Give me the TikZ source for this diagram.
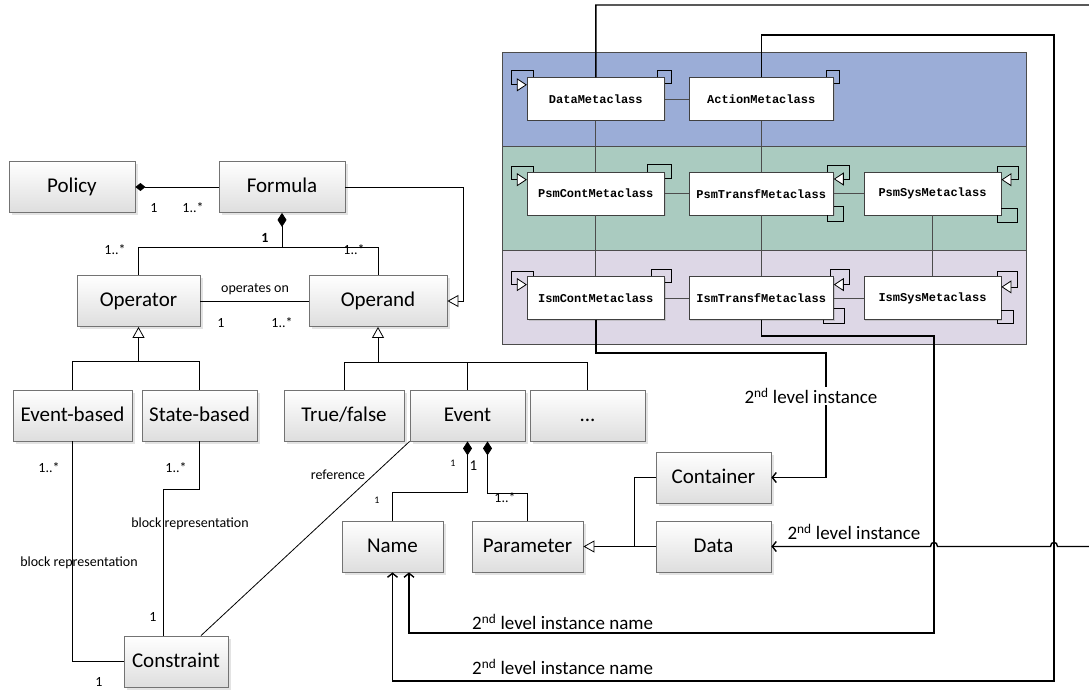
\documentclass[tikz,border=0pt]{standalone}
\usepackage{fontspec}
\setmainfont{Carlito}
\newfontfamily\monofont{Liberation Mono}
\usetikzlibrary{arrows.meta,shadows}

\definecolor{bandA}{RGB}{155,173,215}
\definecolor{bandB}{RGB}{170,203,192}
\definecolor{bandC}{RGB}{221,215,230}

\tikzset{
  umlbox/.style={draw=black!55, line width=0.8pt, top color=white, bottom color=black!13,
    minimum height=51pt, inner sep=0pt, text height=15pt, text depth=4pt,
    font=\fontsize{21}{24}\selectfont,
    drop shadow={shadow xshift=2.5pt, shadow yshift=-2.5pt, fill=black!22}},
  metabox/.style={draw=black!75, line width=0.8pt, fill=white, minimum height=42.6pt,
    inner sep=0pt, font=\monofont\bfseries\fontsize{12}{14}\selectfont,
    drop shadow={shadow xshift=1.2pt, shadow yshift=-1.2pt, fill=black!35}},
  lbl/.style={font=\fontsize{14}{16}\selectfont, inner sep=0pt},
  smalllbl/.style={font=\fontsize{10}{12}\selectfont, inner sep=0pt},
  inst/.style={font=\fontsize{19}{21}\selectfont, inner sep=1pt},
  link/.style={line width=0.8pt, draw=black},
  inner link/.style={line width=0.8pt, draw=black!70},
  wire/.style={line width=1.4pt, draw=black},
  comp/.style={{Diamond[length=14pt,width=9pt]}-},
  gen/.style={-{Triangle[length=11pt,width=12pt,fill=white]}},
  selfgen/.style={-{Triangle[length=10pt,width=13pt,fill=white]}},
  open tip/.style={-{Straight Barb[length=4pt,width=10pt]}},
}

\begin{document}
\begin{tikzpicture}[x=1pt,y=-1pt]
\useasboundingbox (0,0) rectangle (1089,690);
\clip (0,0) rectangle (1089,690);

% ---- metaclass layers ----
\fill[bandA] (502.7,52.7) rectangle (1026,146.7);
\fill[bandB] (502.7,146.7) rectangle (1026,250.7);
\fill[bandC] (502.7,250.7) rectangle (1026,344);
\draw[black!70, line width=0.8pt] (502.7,52.7) rectangle (1026,344);
\draw[black!70, line width=0.8pt] (502.7,146.7) -- (1026,146.7);
\draw[black!70, line width=0.8pt] (502.7,250.7) -- (1026,250.7);

\node[metabox, minimum width=137pt]   (dmc) at (595.8,99) {DataMetaclass};
\node[metabox, minimum width=144.3pt] (amc) at (761.2,99) {ActionMetaclass};
\node[metabox, minimum width=137pt]   (pcm) at (595.8,193.7) {PsmContMetaclass};
\node[metabox, minimum width=144.3pt] (ptm) at (761.2,193.7) {PsmTransfMetaclass};
\node[metabox, minimum width=137pt]   (psm) at (932.5,193.7) {PsmSysMetaclass};
\node[metabox, minimum width=137pt]   (icm) at (595.8,298) {IsmContMetaclass};
\node[metabox, minimum width=144.3pt] (itm) at (761.2,298) {IsmTransfMetaclass};
\node[metabox, minimum width=137pt]   (ism) at (932.5,298) {IsmSysMetaclass};

\draw[inner link] (dmc) -- (amc);
\draw[inner link] (pcm) -- (ptm);
\draw[inner link] (ptm) -- (psm);
\draw[inner link] (icm) -- (itm);
\draw[inner link] (itm) -- (ism);
\draw[inner link] (dmc) -- (pcm);
\draw[inner link] (pcm) -- (icm);
\draw[inner link] (amc) -- (ptm);
\draw[inner link] (ptm) -- (itm);
\draw[inner link] (psm) -- (ism);

% self generalisations on the left edges
\draw[link, selfgen] ([xshift=6pt]dmc.north west) -- ++(0,-7) -- ++(-22,0) -- ++(0,14.5) -- ([yshift=-7.5pt]dmc.north west);
\draw[link, selfgen] ([xshift=6pt]pcm.north west) -- ++(0,-6) -- ++(-22,0) -- ++(0,13.7) -- ([yshift=-7.7pt]pcm.north west);
\draw[link, selfgen] ([xshift=6pt]icm.north west) -- ++(0,-5) -- ++(-22,0) -- ++(0,13.3) -- ([yshift=-8.3pt]icm.north west);

% self associations on the top right corners
\draw[link] ([xshift=-7.6pt]dmc.north east) -- ++(0,-6.7) -| ([xshift=6.4pt,yshift=-6.6pt]dmc.north east) -- ([yshift=-6.6pt]dmc.north east);
\draw[link] ([xshift=-7.6pt]amc.north east) -- ++(0,-6.7) -| ([xshift=6pt,yshift=-6.6pt]amc.north east) -- ([yshift=-6.6pt]amc.north east);
\draw[link] ([xshift=-17.6pt]pcm.north east) -- ++(0,-8) -| ([xshift=6.4pt,yshift=-6pt]pcm.north east) -- ([yshift=-6pt]pcm.north east);
\draw[link] ([xshift=-13.7pt]icm.north east) -- ++(0,-7.4) -| ([xshift=7pt,yshift=-5.6pt]icm.north east) -- ([yshift=-5.6pt]icm.north east);

% self generalisations on the right edges
\draw[link, selfgen] ([xshift=-6.6pt]ptm.north east) -- ++(0,-6.6) -| ([xshift=15.7pt,yshift=-7pt]ptm.north east) -- ([yshift=-7pt]ptm.north east);
\draw[link, selfgen] ([xshift=-4.3pt]psm.north east) -- ++(0,-6) -| ([xshift=16.7pt,yshift=-7.7pt]psm.north east) -- ([yshift=-7.7pt]psm.north east);
\draw[link, selfgen] ([xshift=-3.3pt]itm.north east) -- ++(0,-6.7) -| ([xshift=16pt,yshift=-8.3pt]itm.north east) -- ([yshift=-8.3pt]itm.north east);
\draw[link, selfgen] ([xshift=-4.3pt]ism.north east) -- ++(0,-5) -| ([xshift=15.7pt,yshift=-10.6pt]ism.north east) -- ([yshift=-10.6pt]ism.north east);

% self associations on the bottom right corners
\draw[link] ([xshift=-6.6pt]ptm.south east) -- ++(0,5.7) -| ([xshift=9.4pt,yshift=9.3pt]ptm.south east) -- ([yshift=9.3pt]ptm.south east);
\draw[link] ([xshift=-4.3pt]psm.south east) -- ++(0,6.7) -| ([xshift=15.7pt,yshift=7.3pt]psm.south east) -- ([yshift=7.3pt]psm.south east);
\draw[link] ([xshift=-10pt]itm.south east) -- ++(0,4) -| ([xshift=11pt,yshift=11pt]itm.south east) -- ([yshift=11pt]itm.south east);
\draw[link] ([xshift=-4.3pt]ism.south east) -- ++(0,4) -| ([xshift=12pt,yshift=9.3pt]ism.south east) -- ([yshift=9.3pt]ism.south east);

% ---- policy model ----
\node[umlbox, minimum width=126pt] (policy)     at (72,187)      {Policy};
\node[umlbox, minimum width=126pt] (formula)    at (282,187)     {Formula};
\node[umlbox, minimum width=123pt] (operator)   at (138.5,301)   {Operator};
\node[umlbox, minimum width=138pt] (operand)    at (378,301)     {Operand};
\node[umlbox, minimum width=119pt] (evb)        at (72.5,415.5)  {Event-based};
\node[umlbox, minimum width=115pt] (stb)        at (199.5,415.5) {State-based};
\node[umlbox, minimum width=120pt] (truefalse)  at (344,415.5)   {True/false};
\node[umlbox, minimum width=115pt] (event)      at (467.5,415.5) {Event};
\node[umlbox, minimum width=115pt] (dots)       at (587.5,415.5) {...};
\node[umlbox, minimum width=104pt] (constraint) at (176,661.5)   {Constraint};
\node[umlbox, minimum width=101pt] (name)       at (392.5,546.5) {Name};
\node[umlbox, minimum width=111pt] (parameter)  at (527.5,546.5) {Parameter};
\node[umlbox, minimum width=115pt] (container)  at (713.5,477.5) {Container};
\node[umlbox, minimum width=115pt] (data)       at (713.5,546.5) {Data};

% policy is made of formulas
\draw[link, {Diamond[length=10pt,width=8pt]}-] (policy.east) -- (formula.west);
\node[lbl] (m1) at (154,208) {1};
\node[lbl] (m2) at (193,208) {1..*};

% formula is made of operators and operands
\draw[link, comp] (formula.south) -- ++(0,34) coordinate (fj);
\draw[link] (operator.north) |- (fj) -| (operand.north);
\node[lbl, font=\bfseries\fontsize{14}{16}\selectfont] (m3) at (265,238) {1};
\node[lbl] (m4) at (115,250) {1..*};
\node[lbl] (m5) at (354,250) {1..*};

% operator works on operands
\draw[link] (operator) -- (operand);
\node[lbl] (ops) at (255,289) {operates on};
\node[lbl] (m6) at (221,323) {1};
\node[lbl] (m7) at (282,323) {1..*};

% a formula is itself an operand
\draw[link, gen] (formula.east) -- ++(118,0) |- (operand.east);

% operator kinds
\coordinate (oj) at ([yshift=-34pt]operator.south);
\draw[link, gen] (oj) -- (operator.south);
\draw[link] (evb.north) |- (oj) -| (stb.north);

% operand kinds
\coordinate (aj) at ([yshift=-35pt]operand.south);
\draw[link, gen] (aj) -- (operand.south);
\draw[link] (truefalse.north) |- (aj) -| (dots.north);
\draw[link] (event.north) |- (aj);

% constraints
\draw[link] (evb.south) |- (constraint.west);
\node[lbl] (m8) at (49,468) {1..*};
\node[lbl] (m9) at (99,682) {1};
\node[lbl] (br1) at (79,563) {block representation};
\draw[link] (stb.south) -- ++(0,48) -| ([xshift=-13pt]constraint.north);
\node[lbl] (m10) at (176,468) {1..*};
\node[lbl] (m11) at (153,617) {1};
\node[lbl] (br2) at (190,524) {block representation};
\draw[link] ([xshift=25pt]constraint.north) -- (event.south west);
\node[lbl] (ref) at (338,475) {reference};

% event parts
\draw[link, comp] (event.south) -- ++(0,51) -| (name.north);
\draw[link, comp] ([xshift=20pt]event.south) -- ++(0,52) -| (parameter.north);
\node[smalllbl] (m12) at (453,463) {1};
\node[lbl, font=\fontsize{15}{17}\selectfont] (m13) at (473.5,466) {1};
\node[smalllbl] (m14) at (377,500) {1};
\node[lbl] (m15) at (505,498) {1..*};

% parameter kinds
\coordinate (pj) at (634,546.5);
\draw[link, gen] (data.west) -- (parameter.east);
\draw[link] (container.west) -| (pj);

% ---- instantiation wires ----
\draw[wire, open tip] (icm.south) |- (826,353) |- (container.east);
\node[inst, fill=white] (lc) at (811,396) {2\textsuperscript{nd} level instance};

\draw[wire, open tip] (itm.south) |- (934,336) -- (934,633) -| ([xshift=16.5pt]name.south);
\node[inst, anchor=west] (ln1) at (471,622) {2\textsuperscript{nd} level instance name};

\draw[wire, open tip] (amc.north) |- (1054,35) -- (1054,681) -| (name.south);
\node[inst, anchor=west] (ln2) at (471,667) {2\textsuperscript{nd} level instance name};

\draw[wire, open tip] (dmc.north) |- (1100,5) -- (1100,546.5) -- (1057.5,546.5)
  .. controls (1057.5,541) and (1050.5,541) .. (1050.5,546.5) -- (937.5,546.5)
  .. controls (937.5,541) and (930.5,541) .. (930.5,546.5) -- (data.east);
\node[inst] (ld) at (854,532) {2\textsuperscript{nd} level instance};

\end{tikzpicture}
\end{document}
